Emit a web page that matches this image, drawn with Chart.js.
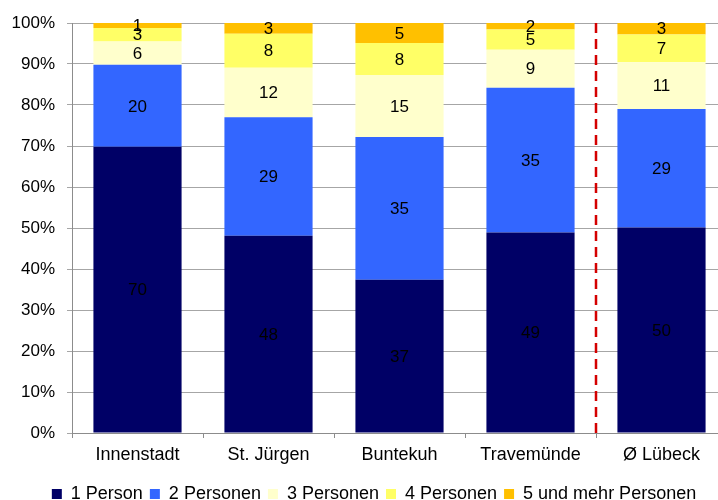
<!DOCTYPE html>
<html>
<head>
<meta charset="utf-8">
<script src="https://cdn.jsdelivr.net/npm/chart.js@4/dist/chart.umd.min.js"></script>
<style>
html,body{margin:0;padding:0;overflow:hidden;background:#fff;width:718px;height:500px;}
#wrap{width:748px;height:513px;}
</style>
</head>
<body>
<div id="wrap"><canvas id="c" width="748" height="513"></canvas></div>
<script>
const categories = ["Innenstadt", "St. Jürgen", "Buntekuh", "Travemünde", "Ø Lübeck"];
const person1 = [69.8, 48.1, 37.4, 48.9, 50.1];
const person2 = [20.0, 28.9, 34.8, 35.3, 28.9];
const person3 = [5.7, 12.1, 15.1, 9.3, 11.4];
const person4 = [3.3, 8.3, 7.8, 4.9, 6.8];
const person5plus = [1.2, 2.6, 4.9, 1.6, 2.8];
const seriesNames = ["1 Person", "2 Personen", "3 Personen", "4 Personen", "5 und mehr Personen"];
const seriesColors = ["#000066", "#3366FF", "#FFFFCC", "#FFFF66", "#FFC000"];
const yTicks = [0, 10, 20, 30, 40, 50, 60, 70, 80, 90, 100];

const FONT = "'Liberation Sans', Arial, sans-serif";
const FS_VAL = 17;
const FS_Y = 17;
const FS_X = 18;
const FS_LEG = 18;

const valueLabels = {
  id: 'valueLabels',
  afterDatasetsDraw(chart) {
    const ctx = chart.ctx;
    ctx.save();
    ctx.font = FS_VAL + 'px ' + FONT;
    ctx.fillStyle = '#000';
    ctx.textAlign = 'center';
    ctx.textBaseline = 'middle';
    chart.data.datasets.forEach((ds, i) => {
      const meta = chart.getDatasetMeta(i);
      meta.data.forEach((el, j) => {
        const p = el.getProps(['x', 'y', 'base'], true);
        ctx.fillText(String(Math.round(ds.data[j])), p.x, (p.y + p.base) / 2 + 1);
      });
    });
    ctx.restore();
  }
};

const divider = {
  id: 'divider',
  afterDatasetsDraw(chart) {
    const xs = chart.scales.x, ca = chart.chartArea, ctx = chart.ctx;
    const x = (xs.getPixelForValue(3) + xs.getPixelForValue(4)) / 2;
    ctx.save();
    ctx.strokeStyle = '#D40000';
    ctx.lineWidth = 2.5;
    ctx.setLineDash([10, 6]);
    ctx.beginPath();
    ctx.moveTo(x, ca.top);
    ctx.lineTo(x, ca.bottom);
    ctx.stroke();
    ctx.restore();
  }
};

const dataSets = [person1, person2, person3, person4, person5plus].map((d, i) => ({
  label: seriesNames[i],
  data: d,
  backgroundColor: seriesColors[i],
  borderWidth: 0,
  barPercentage: 0.673,
  categoryPercentage: 1.0,
  yAxisID: 'y'
}));

new Chart(document.getElementById('c'), {
  type: 'bar',
  data: { labels: categories, datasets: dataSets },
  options: {
    responsive: false,
    animation: false,
    devicePixelRatio: 1,
    layout: { padding: { top: 23, right: 0, left: 0, bottom: 0 } },
    plugins: {
      legend: {
        position: 'bottom',
        labels: {
          boxWidth: 10, boxHeight: 10, padding: 7,
          color: '#000',
          font: { family: FONT, size: FS_LEG }
        }
      },
      tooltip: { enabled: false }
    },
    scales: {
      x: {
        stacked: true,
        offset: true,
        grid: { display: true, drawOnChartArea: false, drawTicks: true, tickLength: 5, color: '#8c8c8c', offset: true },
        border: { color: '#8c8c8c', width: 1 },
        ticks: { color: '#000', font: { family: FONT, size: FS_X }, padding: 6, maxRotation: 0 },
        afterFit(s) { s.height = 45; }
      },
      y: {
        stacked: true,
        min: 0, max: 100,
        afterBuildTicks(s) { s.ticks = yTicks.map(v => ({ value: v })); },
        grid: { color: '#a6a6a6', tickLength: 5, drawTicks: true },
        border: { color: '#8c8c8c', width: 1 },
        ticks: { color: '#000', font: { family: FONT, size: FS_Y }, padding: 12, callback: v => v + '%' },
        afterFit(s) { s.width = 72; }
      },
      rightSpace: {
        type: 'linear',
        position: 'right',
        display: true,
        grid: { display: false, drawTicks: false },
        border: { display: false },
        ticks: { display: false },
        afterFit(s) { s.width = 21; }
      }
    }
  },
  plugins: [valueLabels, divider]
});
</script>
</body>
</html>
